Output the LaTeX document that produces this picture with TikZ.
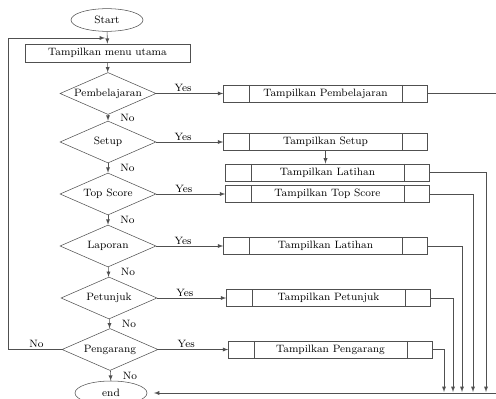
\documentclass[tikz,border=0pt]{standalone}
\usetikzlibrary{shapes,positioning,arrows,calc}
\definecolor{linegray}{HTML}{505050}
\begin{document}
\begin{tikzpicture}[x=0.75pt,y=-0.75pt,>=latex,color=linegray,
    every node/.style={text=black, font=\fontsize{8}{9.6}\selectfont},
    terminal/.style={draw, ellipse, minimum width=54pt, minimum height=17pt, inner sep=0pt},
    menubox/.style={draw, rectangle, minimum width=123.75pt, minimum height=13.5pt, inner sep=0pt},
    decision/.style={draw, diamond, shape aspect=2.3, minimum width=72pt, minimum height=31.5pt, inner sep=0pt},
    process/.style={draw, rectangle, minimum width=153pt, minimum height=13pt, inner sep=0pt,
        path picture={
            \draw ([xshift=19pt]path picture bounding box.north west) -- ([xshift=19pt]path picture bounding box.south west);
            \draw ([xshift=-19pt]path picture bounding box.north east) -- ([xshift=-19pt]path picture bounding box.south east);
        }},
    lbl/.style={inner sep=1pt}]
    \clip (0,0) rectangle (496,399);

    % main column
    \node[terminal] (start) at (107,20) {Start};
    \node[menubox] (menu) at (107.5,53) {Tampilkan menu utama};
    \node[decision] (d1) at (108,93.5) {Pembelajaran};
    \node[decision] (d2) at (108,142) {Setup};
    \node[decision] (d3) at (108,194) {Top Score};
    \node[decision] (d4) at (108,246) {Laporan};
    \node[decision] (d5) at (109,298) {Petunjuk};
    \node[decision] (d6) at (110,349.5) {Pengarang};
    \node[terminal, minimum height=18pt] (end) at (111,393) {end};

    % process boxes
    \node[process] (p1) at (325.5,93.5) {Tampilkan Pembelajaran};
    \node[process] (p2) at (325.5,142) {Tampilkan Setup};
    \node[process] (p3) at (327.5,172.5) {Tampilkan Latihan};
    \node[process] (p4) at (327.5,194) {Tampilkan Top Score};
    \node[process] (p5) at (325.5,246) {Tampilkan Latihan};
    \node[process] (p6) at (328.5,298) {Tampilkan Petunjuk};
    \node[process] (p7) at (330.5,349.5) {Tampilkan Pengarang};

    % return points
    \coordinate (r1) at (496,93.5);
    \coordinate (b3) at (486,392);
    \coordinate (b4) at (473,392);
    \coordinate (b5) at (462,392);
    \coordinate (b6) at (453,392);
    \coordinate (b7) at (444,392);
    \coordinate (r0) at (496,393);
    \coordinate (k1) at (8,349.5);
    \coordinate (k2) at (8,38);
    \coordinate (k3) at (105,38);

    \draw[->] (start) -- (menu);
    \draw[->] (menu) -- (d1);
    \draw[->] (d1) -- node[lbl, right=8pt] {No} (d2);
    \draw[->] (d2) -- node[lbl, right=8pt] {No} (d3);
    \draw[->] (d3) -- node[lbl, right=8pt] {No} (d4);
    \draw[->] (d4) -- node[lbl, right=8pt] {No} (d5);
    \draw[->] (d5) -- node[lbl, right=8pt] {No} (d6);
    \draw[->] (d6) -- node[lbl, right=8pt] {No} (end);

    \draw[->] (d1) -- node[lbl, above, pos=0.4] {Yes} (p1);
    \draw[->] (d2) -- node[lbl, above, pos=0.4] {Yes} (p2);
    \draw[->] (d3) -- node[lbl, above, pos=0.4] {Yes} (p4);
    \draw[->] (d4) -- node[lbl, above, pos=0.4] {Yes} (p5);
    \draw[->] (d5) -- node[lbl, above, pos=0.4] {Yes} (p6);
    \draw[->] (d6) -- node[lbl, above, pos=0.4] {Yes} (p7);
    \draw[->] (p2) -- (p2 |- p3.north);

    \draw (p1) -- (r1);
    \draw[->] (p3) -| (b3);
    \draw[->] (p4) -| (b4);
    \draw[->] (p5) -| (b5);
    \draw[->] (p6) -| (b6);
    \draw[->] (p7) -| (b7);
    \draw[->, shorten >=5pt] (r0) -- (end);

    \draw[->] (d6) -- node[lbl, above, pos=0.47] {No} (k1) -- (k2) -- (k3);
\end{tikzpicture}
\end{document}
